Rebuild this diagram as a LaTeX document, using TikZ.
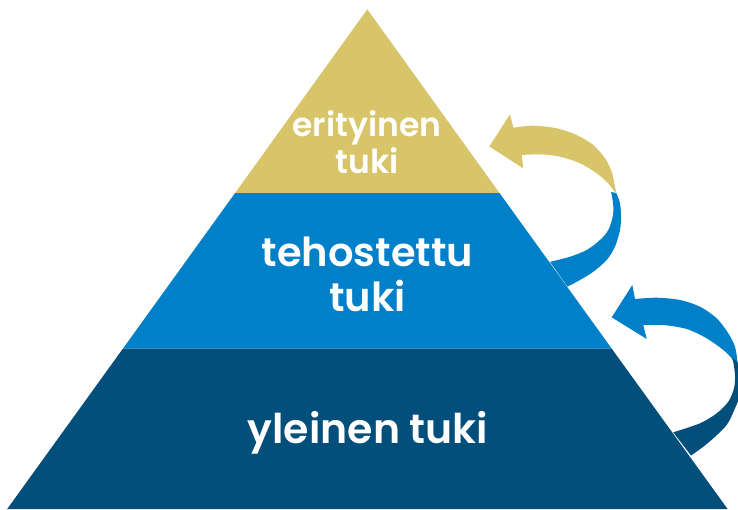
\documentclass[tikz,border=0pt]{standalone}
\usepackage{fontspec}
\setmainfont{Poppins}[BoldFont={Poppins SemiBold}]
\definecolor{goldc}{RGB}{216,197,106}
\definecolor{bluec}{RGB}{0,128,200}
\definecolor{darkc}{RGB}{2,79,123}
\begin{document}
\begin{tikzpicture}[x=1pt,y=-1pt,
  lbl/.style={text=white,font=\bfseries,anchor=base,inner sep=0pt}]
\useasboundingbox (0,0) rectangle (738,509);
\clip (0,0) rectangle (738,509);
% pyramid bands
\coordinate (apex) at (367.3,9.3);
\coordinate (bl) at (7.2,509);
\coordinate (br) at (727.6,509);
\fill[goldc] (apex) -- (235.1,193) -- (499.5,193) -- cycle;
\fill[bluec] (235.1,193) -- (499.5,193) -- (611.6,348.5) -- (123.0,348.5) -- cycle;
\fill[darkc] (123.0,348.5) -- (611.6,348.5) -- (br) -- (bl) -- cycle;
% arrow 1: gold head part
\fill[goldc] (489.3,146.5) -- (510,114.3) -- (513.3,127.7)
  -- plot[smooth] coordinates {(513.3,127.7) (533.3,125.7) (556.7,128.3) (576.7,135) (593.3,145) (605,158.3) (611.7,171.7) (615,186.7) (616.3,193)}
  -- plot[smooth] coordinates {(616.3,193) (613.3,190) (608.3,183.3) (596.7,173.3) (580,163.3) (560,156.7) (540,154.3) (521.7,155)}
  -- (523.3,168.3) -- cycle;
% arrow 1: blue tail part
\fill[bluec] plot[smooth] coordinates {(616.3,193) (620,203.3) (621,216.7) (620,230) (615,246.7) (606.7,260) (593.3,271.7) (580,280) (567.5,286.6)}
  -- (550,261.9)
  -- plot[smooth] coordinates {(550,261.9) (570,256.7) (586.7,250) (600,240) (608.3,230) (612.7,216.7) (613.3,206.7) (612,196) (611,192)} -- cycle;
% arrow 2: blue head part
\fill[bluec] (611.7,317.3) -- (632.3,285) -- (635,299)
  -- plot[smooth] coordinates {(635,299) (656.7,297.7) (680,300) (700,306.7) (716.7,318.3) (728.3,333.3) (735,346.7) (737.5,362)}
  -- plot[smooth] coordinates {(737.5,362) (735,365) (731.7,358.3) (723.3,350) (706.7,338.3) (686.7,329) (663.3,325) (643.3,325)}
  -- (646.7,339) -- cycle;
% arrow 2: dark tail part
\fill[darkc] plot[smooth] coordinates {(737.5,362) (740,375) (741,392) (735,408.3) (726.7,425) (713.3,438.3) (703.3,446.7) (691,455.5)}
  -- (673.2,432.3)
  -- plot[smooth] coordinates {(673.2,432.3) (700,423.3) (716.7,413.3) (728.3,401.7) (734,388.3) (735,375) (732.7,358.3)} -- cycle;
% labels
\node[lbl,font=\bfseries\fontsize{33}{33}\selectfont] (e1) at (367,136) {erityinen};
\node[lbl,font=\bfseries\fontsize{33}{33}\selectfont] (e2) at (367,173.3) {tuki};
\node[lbl,font=\bfseries\fontsize{40}{40}\selectfont] (t1) at (367.4,266) {tehostettu};
\node[lbl,font=\bfseries\fontsize{40}{40}\selectfont] (t2) at (367.4,311.7) {tuki};
\node[lbl,font=\bfseries\fontsize{41}{41}\selectfont] (y1) at (368,443.3) {yleinen tuki};
\end{tikzpicture}
\end{document}
